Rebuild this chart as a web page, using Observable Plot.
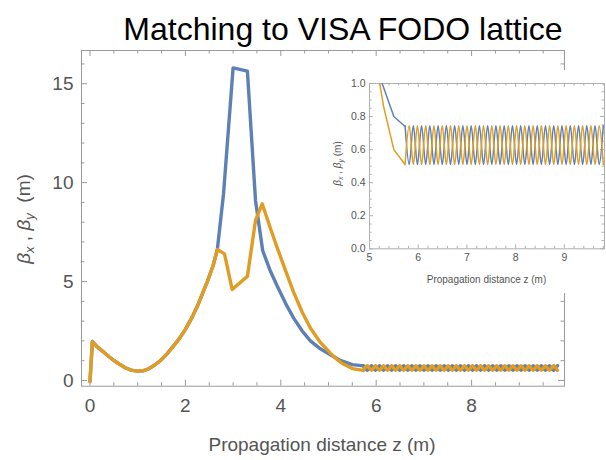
<!DOCTYPE html>
<html>
<head>
<meta charset="utf-8">
<script src="https://cdn.jsdelivr.net/npm/d3@7"></script>
<script src="https://cdn.jsdelivr.net/npm/@observablehq/plot@0.6"></script>
<style>
  body { margin: 0; background: #fff; }
  #wrap { position: relative; width: 606px; height: 460px; overflow: hidden; font-family: "Liberation Sans", Arial, sans-serif; }
  #main { position: absolute; left: 0; top: 0; }
  #inset { position: absolute; left: 330px; top: 70px; }
  #title { position: absolute; left: 343px; top: 13px; transform: translateX(-50%); white-space: nowrap;
           font-size: 32px; line-height: 32px; color: #000; font-family: "Liberation Sans", Arial, sans-serif; }
</style>
</head>
<body>
<div id="wrap">
  <div id="main"></div>
  <div id="inset"></div>
  <div id="title">Matching to VISA FODO lattice</div>
</div>
<script>
// ---------------- data ----------------
const zBlue = [0, 0.05, 0.15, 0.29, 0.40, 0.50, 0.62, 0.74, 0.86, 0.99,
  1.11, 1.23, 1.35, 1.48, 1.62, 1.76, 1.88, 2.00, 2.12, 2.25,
  2.36, 2.46, 2.58, 2.67, 2.80, 3.00, 3.30, 3.47, 3.62, 3.77,
  3.92, 4.10, 4.27, 4.45, 4.62, 4.83, 5.04, 5.26, 5.50, 5.73];
const betaBlue = [-0.05, 1.97, 1.70, 1.43, 1.20, 1.01, 0.82, 0.64, 0.52, 0.47,
  0.49, 0.59, 0.77, 1.01, 1.36, 1.77, 2.14, 2.58, 3.10, 3.75,
  4.40, 5.00, 5.80, 6.62, 9.44, 15.80, 15.64, 9.10, 6.57, 5.60,
  4.80, 3.90, 3.15, 2.50, 2.00, 1.60, 1.30, 1.00, 0.80, 0.74];

const zOrange = [0, 0.05, 0.15, 0.29, 0.40, 0.50, 0.62, 0.74, 0.86, 0.99,
  1.11, 1.23, 1.35, 1.48, 1.62, 1.76, 1.88, 2.00, 2.12, 2.25,
  2.36, 2.46, 2.58, 2.67, 2.82, 2.98, 3.30, 3.47, 3.61, 3.77,
  3.92, 4.10, 4.27, 4.45, 4.62, 4.83, 5.04, 5.21, 5.29, 5.50, 5.73];
const betaOrange = [-0.05, 1.97, 1.70, 1.43, 1.20, 1.01, 0.82, 0.64, 0.52, 0.47,
  0.49, 0.59, 0.77, 1.01, 1.36, 1.77, 2.14, 2.58, 3.10, 3.75,
  4.40, 5.00, 5.80, 6.62, 6.40, 4.60, 5.26, 8.09, 8.93, 7.78,
  6.74, 5.55, 4.45, 3.45, 2.65, 1.92, 1.38, 1.00, 0.86, 0.60, 0.51];

// FODO lattice section: extrema of the periodic beta functions
const zLattice = [5.730, 5.815, 5.900, 5.984, 6.069, 6.154, 6.239, 6.324, 6.408, 6.493,
  6.578, 6.663, 6.748, 6.832, 6.917, 7.002, 7.087, 7.172, 7.256, 7.341,
  7.426, 7.511, 7.596, 7.680, 7.765, 7.850, 7.935, 8.020, 8.104, 8.189,
  8.274, 8.359, 8.444, 8.528, 8.613, 8.698, 8.783, 8.868, 8.952, 9.037,
  9.122, 9.207, 9.292, 9.376, 9.461, 9.546, 9.631, 9.716, 9.800];
const betaLatBlue = [0.745, 0.51, 0.745, 0.51, 0.745, 0.51, 0.745, 0.51, 0.745, 0.51,
  0.745, 0.51, 0.745, 0.51, 0.745, 0.51, 0.745, 0.51, 0.745, 0.51,
  0.745, 0.51, 0.745, 0.51, 0.745, 0.51, 0.745, 0.51, 0.745, 0.51,
  0.745, 0.51, 0.745, 0.51, 0.745, 0.51, 0.745, 0.51, 0.745, 0.51,
  0.745, 0.51, 0.745, 0.51, 0.745, 0.51, 0.745, 0.51, 0.745];
const betaLatOrange = [0.51, 0.745, 0.51, 0.745, 0.51, 0.745, 0.51, 0.745, 0.51, 0.745,
  0.51, 0.745, 0.51, 0.745, 0.51, 0.745, 0.51, 0.745, 0.51, 0.745,
  0.51, 0.745, 0.51, 0.745, 0.51, 0.745, 0.51, 0.745, 0.51, 0.745,
  0.51, 0.745, 0.51, 0.745, 0.51, 0.745, 0.51, 0.745, 0.51, 0.745,
  0.51, 0.745, 0.51, 0.745, 0.51, 0.745, 0.51, 0.745, 0.51];

const mainXTicks = [0, 2, 4, 6, 8];
const mainYTicks = [0, 5, 10, 15];
const insetXTicks = [5, 6, 7, 8, 9];
const insetYTicks = [0, 0.2, 0.4, 0.6, 0.8, 1.0];

const BLUE = "#5e81b5", ORANGE = "#e19c24";

// ---------------- tables ----------------
const pre = (zs, bs) => zs.map((z, i) => ({z, beta: bs[i]}));
const preB = pre(zBlue, betaBlue), preO = pre(zOrange, betaOrange);
const latB = pre(zLattice, betaLatBlue), latO = pre(zLattice, betaLatOrange);

function frameTicks(cfg) {
  const {xd, yd, kx, ky, xMaj, xMin, yMaj, yMin, maj, min, stroke} = cfg;
  const m = [];
  for (const [ts, len] of [[xMaj, maj], [xMin, min]]) {
    m.push(Plot.ruleX(ts, {x: d => d, y1: () => yd[0], y2: () => yd[0] + len / ky, stroke}));
    m.push(Plot.ruleX(ts, {x: d => d, y1: () => yd[1], y2: () => yd[1] - len / ky, stroke}));
  }
  for (const [ts, len] of [[yMaj, maj], [yMin, min]]) {
    m.push(Plot.ruleY(ts, {y: d => d, x1: () => xd[0], x2: () => xd[0] + len / kx, stroke}));
    m.push(Plot.ruleY(ts, {y: d => d, x1: () => xd[1], x2: () => xd[1] - len / kx, stroke}));
  }
  return m;
}

function lines(sw, clip) {
  const base = {x: "z", y: "beta", strokeWidth: sw, strokeLinejoin: "round", strokeLinecap: "round", clip};
  return [
    Plot.line(preB, {...base, stroke: BLUE}),
    Plot.line(latB, {...base, stroke: BLUE, curve: "monotone-x"}),
    Plot.line(preO, {...base, stroke: ORANGE}),
    Plot.line(latO, {...base, stroke: ORANGE, curve: "monotone-x"})
  ];
}

// ---------------- main plot ----------------
{
  const W = 606, H = 460, mL = 81, mR = 42, mT = 50, mB = 74.3;
  const xd = [-0.178, 9.948], yd = [-0.29, 16.68];
  const kx = (W - mL - mR) / (xd[1] - xd[0]), ky = (H - mT - mB) / (yd[1] - yd[0]);
  const xMin = d3.range(0.5, 9.9, 0.5).filter(v => v % 2 !== 0);
  const yMin = d3.range(1, 16.5, 1).filter(v => v % 5 !== 0);
  const chart = Plot.plot({
    width: W, height: H, marginLeft: mL, marginRight: mR, marginTop: mT, marginBottom: mB,
    style: {fontFamily: "Liberation Sans, Arial, sans-serif", background: "transparent"},
    x: {domain: xd}, y: {domain: yd},
    marks: [
      Plot.frame({stroke: "#9a9a9a"}),
      ...frameTicks({xd, yd, kx, ky, xMaj: mainXTicks, xMin, yMaj: mainYTicks, yMin, maj: 6, min: 3.5, stroke: "#9a9a9a"}),
      Plot.axisX(mainXTicks, {tickSize: 0, tickPadding: 12, fontSize: 19, fill: "#555", label: null}),
      Plot.axisY(mainYTicks, {tickSize: 0, tickPadding: 8, fontSize: 19, fill: "#555", label: null}),
      ...lines(3.4, false)
    ]
  });
  document.getElementById("main").appendChild(chart);
  const svg = d3.select(chart);
  svg.append("text").attr("x", 322).attr("y", 451).attr("text-anchor", "middle")
    .attr("font-size", 19).attr("fill", "#555").text("Propagation distance z (m)");
  const yl = svg.append("text").attr("transform", "translate(30,219) rotate(-90)")
    .attr("text-anchor", "middle").attr("font-size", 19).attr("fill", "#555");
  yl.append("tspan").attr("font-style", "italic").text("β");
  yl.append("tspan").attr("font-style", "italic").attr("font-size", 13).attr("dy", 4).text("x");
  yl.append("tspan").attr("dy", -4).text(" , ");
  yl.append("tspan").attr("font-style", "italic").text("β");
  yl.append("tspan").attr("font-style", "italic").attr("font-size", 13).attr("dy", 4).text("y");
  yl.append("tspan").attr("dy", -4).text("  (m)");
}

// ---------------- inset ----------------
{
  const W = 276, H = 223, mL = 39, mR = 2, mT = 13, mB = 44.7;
  const xd = [5, 9.825], yd = [0, 1];
  const kx = (W - mL - mR) / (xd[1] - xd[0]), ky = (H - mT - mB) / (yd[1] - yd[0]);
  const xMin = d3.range(5.2, 9.81, 0.2).filter(v => Math.abs(v - Math.round(v)) > 0.01);
  const yMin = d3.range(0.05, 1, 0.05).filter(v => Math.abs(v * 5 - Math.round(v * 5)) > 0.01);
  const chart = Plot.plot({
    width: W, height: H, marginLeft: mL, marginRight: mR, marginTop: mT, marginBottom: mB,
    style: {fontFamily: "Liberation Sans, Arial, sans-serif", background: "#fff"},
    x: {domain: xd}, y: {domain: yd},
    marks: [
      Plot.frame({stroke: "#b0b0b0"}),
      ...frameTicks({xd, yd, kx, ky, xMaj: insetXTicks, xMin, yMaj: insetYTicks, yMin, maj: 4, min: 2.5, stroke: "#b0b0b0"}),
      Plot.axisX(insetXTicks, {tickSize: 0, tickPadding: 4.5, fontSize: 10.5, fill: "#555", label: null}),
      Plot.axisY(insetYTicks, {tickSize: 0, tickPadding: 4, fontSize: 10.5, fill: "#555", label: null, tickFormat: d3.format(".1f")}),
      ...lines(1.5, true)
    ]
  });
  document.getElementById("inset").appendChild(chart);
  const svg = d3.select(chart);
  svg.append("text").attr("x", 156.5).attr("y", 213).attr("text-anchor", "middle")
    .attr("font-size", 10).attr("fill", "#555").text("Propagation distance z (m)");
  const yl = svg.append("text").attr("transform", "translate(10.5,93.5) rotate(-90)")
    .attr("text-anchor", "middle").attr("font-size", 10).attr("fill", "#555");
  yl.append("tspan").attr("font-style", "italic").text("β");
  yl.append("tspan").attr("font-style", "italic").attr("font-size", 7).attr("dy", 2).text("x");
  yl.append("tspan").attr("dy", -2).text(" , ");
  yl.append("tspan").attr("font-style", "italic").text("β");
  yl.append("tspan").attr("font-style", "italic").attr("font-size", 7).attr("dy", 2).text("y");
  yl.append("tspan").attr("dy", -2).text(" (m)");
}
</script>
</body>
</html>
